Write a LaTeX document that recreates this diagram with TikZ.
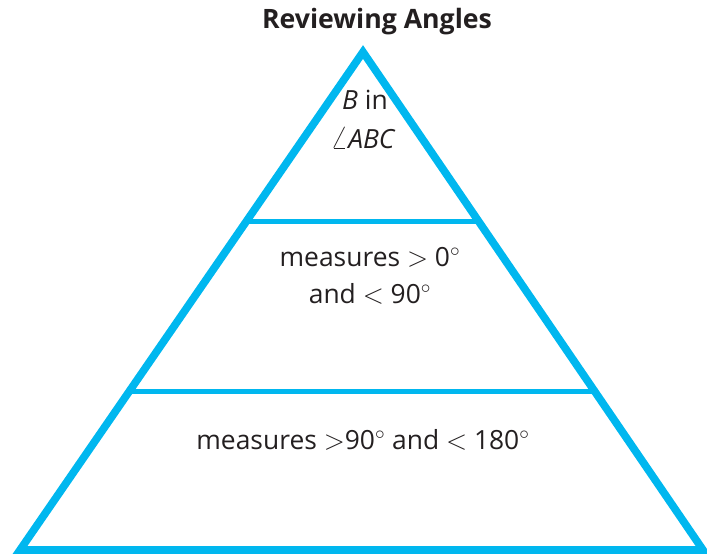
\documentclass[tikz,border=0pt]{standalone}
\usepackage{fontspec}
\setmainfont{Open Sans}
\usetikzlibrary{calc}
\definecolor{pyrcyan}{HTML}{00B7EF}
\definecolor{pyrink}{HTML}{231F20}

\begin{document}
\begin{tikzpicture}[x=0.75pt, y=-0.75pt, font=\fontsize{19.8}{24}\selectfont, text=pyrink,
    side/.style={draw=pyrcyan, line width=5.8pt, line join=miter},
    tier/.style={draw=pyrcyan, line width=3.6pt},
    lbl/.style={align=center, inner sep=0pt},
  ]
  \useasboundingbox (0,0) rectangle (707,556);

  % corners of the pyramid
  \coordinate (apex) at (363, 52);
  \coordinate (bl) at (20, 550);
  \coordinate (br) at (703, 550);

  % tier lines, cut where they meet the two sides
  \coordinate (t1l) at ($(apex)!0.341!(bl)$);
  \coordinate (t1r) at ($(apex)!0.341!(br)$);
  \coordinate (t2l) at ($(apex)!0.681!(bl)$);
  \coordinate (t2r) at ($(apex)!0.681!(br)$);
  \draw[tier] (t1l) -- (t1r);
  \draw[tier] (t2l) -- (t2r);

  % outline
  \draw[side] (apex) -- (bl) -- (br) -- cycle;

  % title and tier texts
  \node[lbl, font=\fontsize{20}{24}\selectfont\bfseries] (title) at (377, 22) {Reviewing Angles};
  \node[lbl] (top1) at (365, 100) {\textit{B} in};
  \node[lbl] (top2) at (363, 138) {{\fontsize{25}{25}\selectfont$\angle$}\textit{ABC}};
  \node[lbl] (mid1) at (370, 257) {measures $>$ 0$^\circ$};
  \node[lbl] (mid2) at (370, 294) {and $<$ 90$^\circ$};
  \node[lbl] (low) at (363, 440) {measures $>$90$^\circ$ and $<$ 180$^\circ$};
\end{tikzpicture}
\end{document}
